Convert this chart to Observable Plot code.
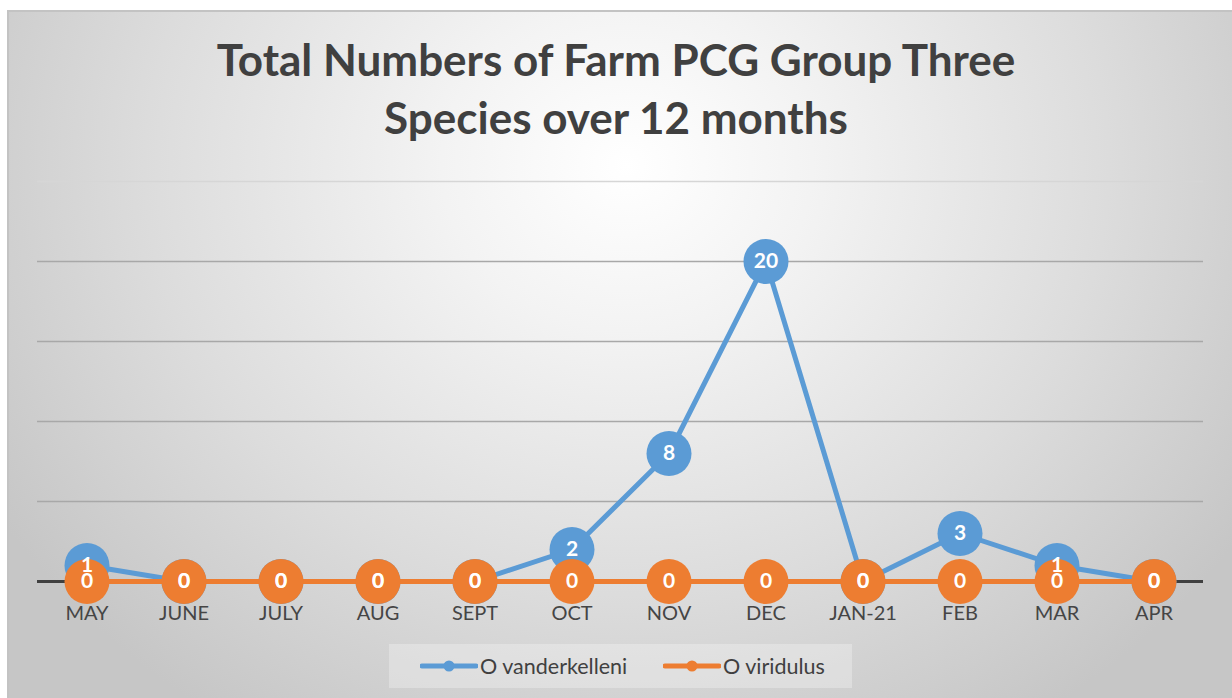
<!DOCTYPE html>
<html><head><meta charset="utf-8">
<script src="https://cdn.jsdelivr.net/npm/d3@7"></script>
<script src="https://cdn.jsdelivr.net/npm/@observablehq/plot@0.6"></script>
<style>
body{margin:0;width:1232px;height:698px;overflow:hidden;background:#fff;font-family:Lato,"Open Sans",sans-serif;}
#frame{position:absolute;left:7px;top:10px;width:1240px;height:700px;border:2px solid #c3c3c3;box-sizing:border-box;
  background:radial-gradient(ellipse 60% 95% at 50% 22%, #ffffff 0%, #f3f3f3 25%, #dcdcdc 65%, #c6c6c6 100%);}
#title{position:absolute;left:0;width:1232px;top:30px;text-align:center;font-weight:700;font-size:44px;line-height:58px;color:#404040;}
#chart{position:absolute;left:0;top:0;}
#legend{position:absolute;left:389px;top:644px;width:463px;height:44px;background:rgba(255,255,255,0.28);}
.item{position:absolute;top:0;height:44px;display:flex;align-items:center;font-size:21.5px;color:#404040;}
.item svg{display:block;}
</style></head>
<body>
<div id="frame"></div>
<div id="title">Total Numbers of Farm PCG Group Three<br>Species over 12 months</div>
<div id="chart"></div>
<div id="legend"></div>
<script>
const months = ["MAY","JUNE","JULY","AUG","SEPT","OCT","NOV","DEC","JAN-21","FEB","MAR","APR"];
const vanderkelleni = [1,0,0,0,0,2,8,20,0,3,1,0];
const viridulus = [0,0,0,0,0,0,0,0,0,0,0,0];
const seriesNames = ["O vanderkelleni","O viridulus"];
const seriesColors = ["#5b9bd5","#ed7d31"];
const gridValues = [5,10,15,20];
const topGrid = [25];

const blueData = months.map((m,i)=>({month:m, value:vanderkelleni[i], series:seriesNames[0]}));
const orangeData = months.map((m,i)=>({month:m, value:viridulus[i], series:seriesNames[1]}));

const chart = Plot.plot({
  width:1232, height:698,
  marginLeft:37, marginRight:29, marginTop:181, marginBottom:117,
  style:{background:"transparent", fontFamily:"Lato, 'Open Sans', sans-serif", fontSize:"20px", overflow:"visible"},
  x:{type:"band", domain:months, padding:0, axis:null},
  y:{domain:[0,25], axis:null},
  marks:[
    Plot.ruleY(topGrid, {stroke:"#d6d6d6", strokeWidth:1.5}),
    Plot.ruleY(gridValues, {stroke:"#a8a8a8", strokeWidth:1.5}),
    Plot.ruleY([0], {stroke:"#404040", strokeWidth:3}),
    Plot.axisX({anchor:"bottom", label:null, tickSize:0, tickPadding:24, fill:"#454545", fontSize:20, fontFamily:"Lato, 'Open Sans', sans-serif"}),
    Plot.line(blueData, {x:"month", y:"value", stroke:seriesColors[0], strokeWidth:5}),
    Plot.dot(blueData, {x:"month", y:"value", r:22.5, fill:seriesColors[0], stroke:null}),
    Plot.line(orangeData, {x:"month", y:"value", stroke:seriesColors[1], strokeWidth:5}),
    Plot.dot(orangeData, {x:"month", y:"value", r:22.5, fill:seriesColors[1], stroke:null}),
    Plot.text(blueData, {x:"month", y:"value", text:"value", fill:"white", fontWeight:700, fontSize:21}),
    Plot.text(orangeData, {x:"month", y:"value", text:"value", fill:"white", fontWeight:700, fontSize:21})
  ]
});
document.getElementById("chart").appendChild(chart);

const legend = document.getElementById("legend");
const itemLefts = [31, 274];
seriesNames.forEach((name,i)=>{
  const d = document.createElement("div");
  d.className = "item";
  d.style.left = itemLefts[i] + "px";
  d.innerHTML = `<svg width="58" height="14"><line x1="2" y1="7" x2="56" y2="7" stroke="${seriesColors[i]}" stroke-width="5" stroke-linecap="round"/><circle cx="29" cy="7" r="5.5" fill="${seriesColors[i]}"/></svg><span style="margin-left:2px">${name}</span>`;
  legend.appendChild(d);
});
</script>
</body></html>
